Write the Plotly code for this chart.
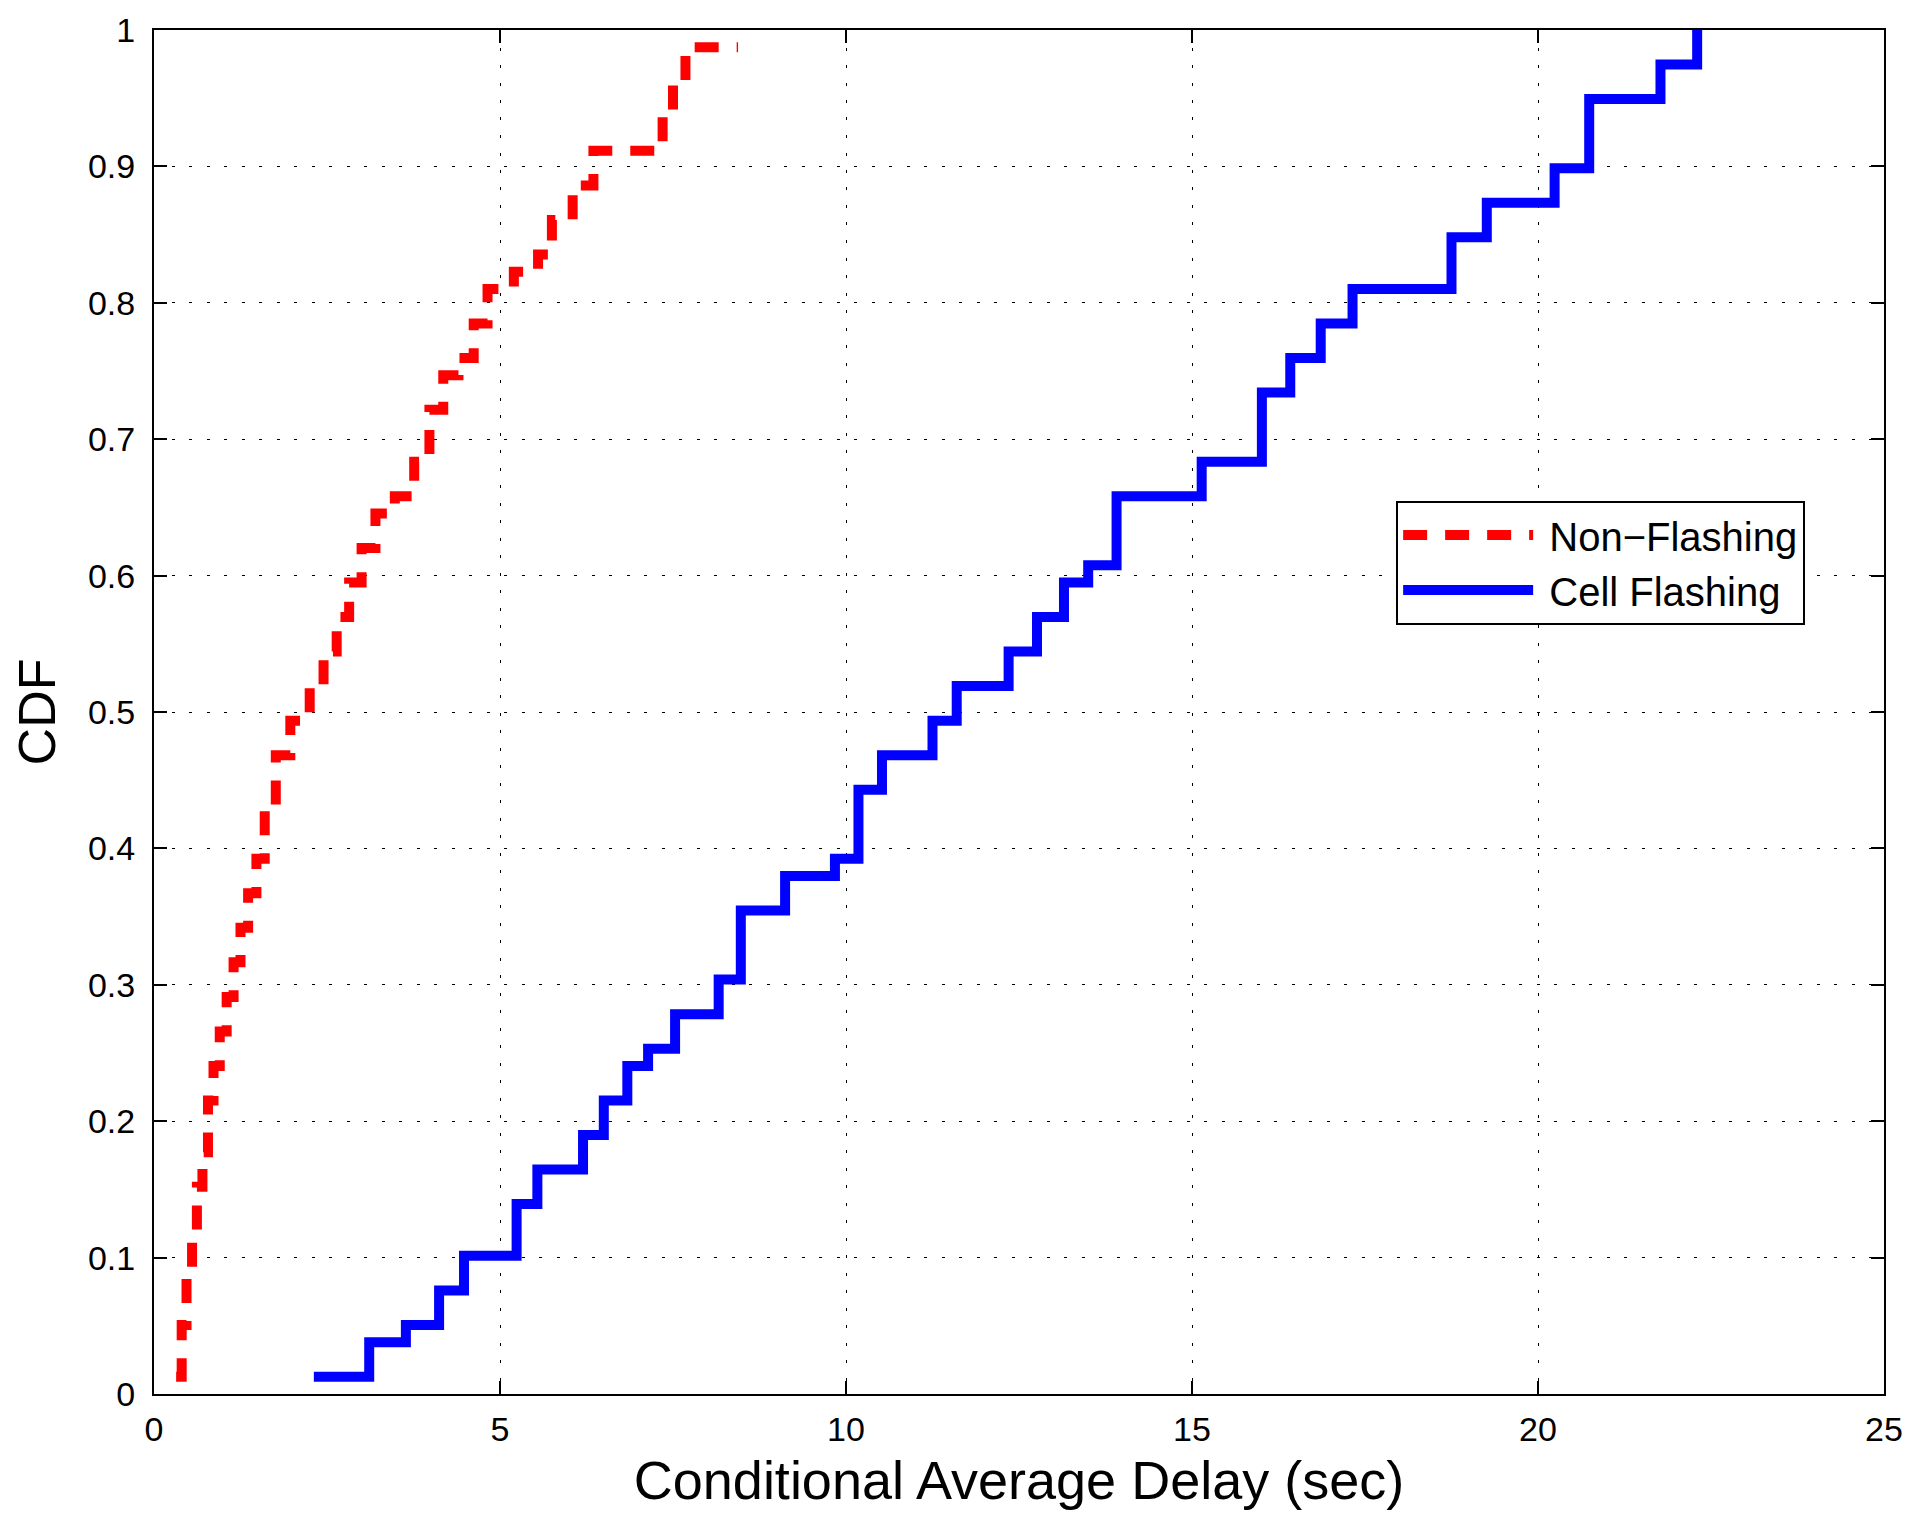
import plotly.graph_objects as go

# Non-Flashing CDF steps (delay in sec, cumulative count out of N)
N = 79
red_x = [0.32, 0.40, 0.47, 0.55, 0.62, 0.70, 0.78, 0.86, 0.95, 1.05, 1.15, 1.25, 1.36, 1.48, 1.60,
         1.76, 1.97, 2.25, 2.45, 2.64, 2.82, 3.00, 3.20, 3.48, 3.76, 3.98, 4.18, 4.40, 4.62, 4.82,
         5.20, 5.55, 5.75, 6.05, 6.35, 7.35, 7.50, 7.68, 8.44]
red_k = [1, 4, 7, 9, 12, 14, 17, 19, 21, 23, 25, 27, 29, 31, 34,
         37, 39, 41, 43, 45, 47, 49, 51, 52, 54, 57, 59, 60, 62, 64,
         65, 66, 68, 70, 72, 74, 76, 78, 78]

# Cell Flashing CDF steps
blue_x = [2.31, 3.11, 3.64, 4.12, 4.48, 5.24, 5.54, 6.20, 6.50, 6.84, 7.14, 7.53, 8.16, 8.48,
          9.12, 9.84, 10.18, 10.52, 11.25, 11.60, 12.35, 12.76, 13.15, 13.50, 13.91, 15.14,
          16.01, 16.42, 16.86, 17.32, 18.75, 19.26, 20.24, 20.74, 21.77, 22.30]
blue_k = [1, 3, 4, 6, 8, 11, 13, 15, 17, 19, 20, 22, 24, 28, 30, 31, 35, 37, 39, 41, 43, 45,
          47, 48, 52, 54, 58, 60, 62, 64, 67, 69, 71, 75, 77, 79]

x_ticks = [0, 5, 10, 15, 20, 25]
y_ticks = [0, 0.1, 0.2, 0.3, 0.4, 0.5, 0.6, 0.7, 0.8, 0.9, 1]
y_tick_text = ["0", "0.1", "0.2", "0.3", "0.4", "0.5", "0.6", "0.7", "0.8", "0.9", "1"]

red_y = [k / N for k in red_k]
blue_y = [k / N for k in blue_k]

FONT = "Liberation Sans, Arial, Helvetica, sans-serif"

fig = go.Figure()
fig.add_trace(go.Scatter(
    x=red_x, y=red_y, mode="lines", name=" Non\u2212Flashing",
    line=dict(color="#ff0000", width=10, dash="24px,18px", shape="hv"),
))
fig.add_trace(go.Scatter(
    x=blue_x, y=blue_y, mode="lines", name=" Cell Flashing",
    line=dict(color="#0000ff", width=10, shape="hv"),
))

axis_common = dict(
    showline=True, linecolor="black", linewidth=2, mirror="ticks",
    ticks="inside", ticklen=13, tickwidth=2, tickcolor="black",
    showgrid=True, gridcolor="black", gridwidth=1, griddash="3px,14.5px",
    zeroline=False, automargin=False,
    tickfont=dict(family=FONT, size=34, color="black"),
)

fig.update_layout(
    width=1928, height=1521,
    paper_bgcolor="white", plot_bgcolor="white",
    margin=dict(l=146, r=52, t=22, b=135),
    font=dict(family=FONT, color="black"),
    xaxis=dict(range=[0, 25], tickvals=x_ticks, ticklabelstandoff=4,
               title=dict(text="Conditional Average Delay (sec)",
                          font=dict(family=FONT, size=54, color="black"), standoff=14),
               **axis_common),
    yaxis=dict(range=[0, 1], tickvals=y_ticks, ticktext=y_tick_text, ticklabelstandoff=10,
               title=dict(text="CDF", font=dict(family=FONT, size=52, color="black"), standoff=16),
               **axis_common),
    legend=dict(x=0.718, y=0.655, xanchor="left", yanchor="top",
                bgcolor="white", bordercolor="black", borderwidth=2,
                font=dict(family=FONT, size=40, color="black"),
                itemwidth=130, tracegroupgap=0),
    showlegend=True,
)

fig.write_html("out.html")
